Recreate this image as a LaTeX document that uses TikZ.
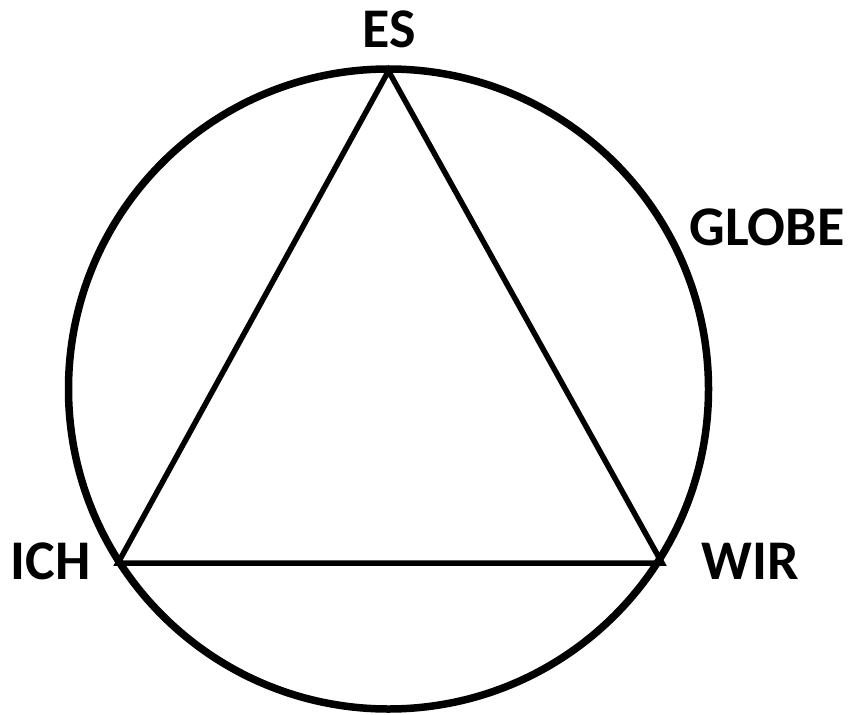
\documentclass[tikz,border=0pt]{standalone}
\usepackage{fontspec}
\setmainfont{Carlito}
\begin{document}
\begin{tikzpicture}[x=1pt,y=-1pt,
  lbl/.style={font=\bfseries\fontsize{56}{56}\selectfont, inner sep=0pt, anchor=center},
  ring/.style={line width=7.5pt},
  tri/.style={line width=5.5pt, line join=miter}]
\useasboundingbox (0,0) rectangle (850,714);
\coordinate (c) at (388.5,389);
\draw[ring] (c) circle[radius=320];
\coordinate (es) at (388.5,71);
\coordinate (ich) at (118,563);
\coordinate (wir) at (662,563);
\draw[tri] (es) -- (wir) -- (ich) -- cycle;
\node[lbl] (tes) at (389,29.5) {ES};
\node[lbl] (tglobe) at (767,227.5) {GLOBE};
\node[lbl] (tich) at (50.5,561.5) {ICH};
\node[lbl] (twir) at (750,561.5) {WIR};
\end{tikzpicture}
\end{document}
